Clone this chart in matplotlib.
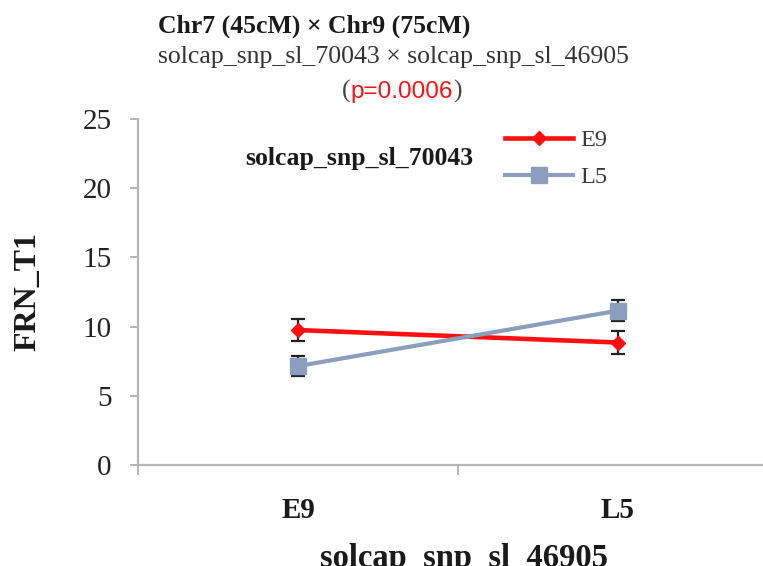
import matplotlib
matplotlib.use("Agg")
import matplotlib.pyplot as plt
from matplotlib.ticker import FixedLocator, NullFormatter

# data
groups = ["E9", "L5"]            # solcap_snp_sl_46905 genotype (x axis)
e9_mean = [9.75, 8.85]           # solcap_snp_sl_70043 = E9
e9_err = [0.80, 0.85]
l5_mean = [7.15, 11.15]          # solcap_snp_sl_70043 = L5
l5_err = [0.70, 0.75]
y_ticks = [0, 5, 10, 15, 20, 25]

W, H = 763, 566
SERIF = ["Liberation Serif", "DejaVu Serif"]
RED = "#ff1010"
BLUE = "#8b9ebd"
AXCOL = "#b5b5b5"

plt.rcParams["font.family"] = SERIF

fig = plt.figure(figsize=(W / 100, H / 100), dpi=100)
ax = fig.add_axes([138 / W, 1 - 465 / H, 640 / W, 346 / H])

xpos = [i + 0.5 for i in range(len(groups))]

# error bars under the markers
ax.errorbar(xpos, e9_mean, yerr=e9_err, fmt="none", ecolor="#222222",
            elinewidth=1.6, capsize=5, capthick=1.6, zorder=2)
ax.errorbar(xpos, l5_mean, yerr=l5_err, fmt="none", ecolor="#222222",
            elinewidth=1.6, capsize=5, capthick=1.6, zorder=2)

ax.plot(xpos, e9_mean, color=RED, lw=3.3, marker="D", ms=7.5,
        label="E9", zorder=3)
ax.plot(xpos, l5_mean, color=BLUE, lw=3.0, marker="s", ms=11,
        label="L5", zorder=3)

ax.set_xlim(0, 2)
ax.set_ylim(0, 25)
ax.set_yticks(y_ticks)
ax.tick_params(axis="y", labelsize=21, colors=AXCOL, labelcolor="#222222",
               length=6, width=1.4, pad=13)

# category boundaries carry the ticks, labels sit in between
ax.xaxis.set_major_locator(FixedLocator([0, 1, 2]))
ax.xaxis.set_major_formatter(NullFormatter())
ax.xaxis.set_minor_locator(FixedLocator(xpos))
ax.set_xticklabels(groups, minor=True, fontsize=21, fontweight="bold",
                   color="#1a1a1a")
ax.tick_params(axis="x", which="major", colors=AXCOL, length=7, width=1.4)
ax.tick_params(axis="x", which="minor", length=0, pad=23)

for s in ["top", "right"]:
    ax.spines[s].set_visible(False)
for s in ["left", "bottom"]:
    ax.spines[s].set_color(AXCOL)
    ax.spines[s].set_linewidth(1.6)

ax.set_ylabel("FRN_T1", fontsize=23, fontweight="bold", color="#1a1a1a",
              va="center")
ax.yaxis.set_label_coords((28 - 138) / 640, 0.5)
ax.set_xlabel("solcap_snp_sl_46905", fontsize=23.5, fontweight="bold",
              color="#1a1a1a", va="baseline")
ax.xaxis.set_label_coords((464 - 138) / 640, (465 - 567) / 346)

leg = ax.legend(loc="upper left", bbox_to_anchor=(505 / W, 1 - 129 / H),
                bbox_transform=fig.transFigure, frameon=False, fontsize=17.5,
                handlelength=2.8, handletextpad=0.3, labelspacing=0.62,
                borderpad=0, borderaxespad=0)
for t in leg.get_texts():
    t.set_color("#3a3a3a")

ax.text(245, H - 165, "solcap_snp_sl_70043", transform=None,
        fontsize=18.5, fontweight="bold", color="#1a1a1a", va="baseline")

# titles above the plot
fig.text(158 / W, 1 - 33 / H, "Chr7 (45cM) \u00d7 Chr9 (75cM)", fontsize=18.5,
         fontweight="bold", color="#1a1a1a", va="baseline")
fig.text(158 / W, 1 - 63 / H, "solcap_snp_sl_70043 \u00d7 solcap_snp_sl_46905",
         fontsize=18.5, color="#333333", va="baseline")

fig.canvas.draw()
r = fig.canvas.get_renderer()
t1 = fig.text(342 / W, 1 - 98 / H, "(", fontsize=18.5, color="#444444",
              va="baseline")
x1 = t1.get_window_extent(r).x1
t2 = fig.text(x1 / W, 1 - 98 / H, "p=0.0006", fontsize=17.5, color=RED,
              va="baseline", family=["Liberation Sans", "DejaVu Sans"])
x2 = t2.get_window_extent(r).x1
fig.text(x2 / W, 1 - 98 / H, ")", fontsize=18.5, color="#444444",
         va="baseline")

fig.savefig("out.png", dpi=100)
